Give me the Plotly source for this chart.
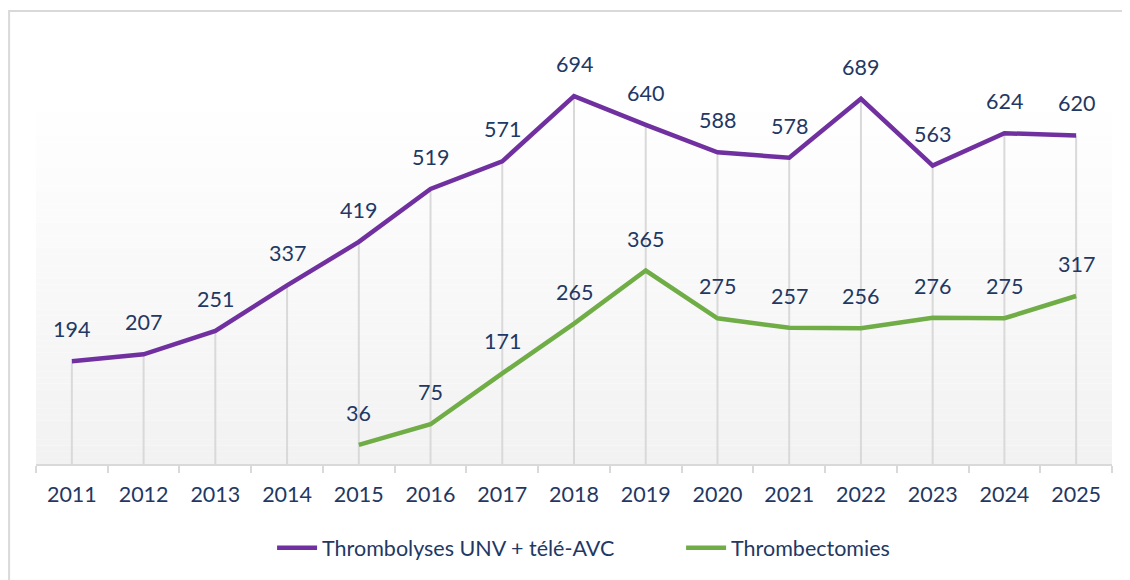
import plotly.graph_objects as go

years = ["2011","2012","2013","2014","2015","2016","2017","2018","2019","2020","2021","2022","2023","2024","2025"]
thrombolyses = [194,207,251,337,419,519,571,694,640,588,578,689,563,624,620]
thrombectomies = [None,None,None,None,36,75,171,265,365,275,257,256,276,275,317]

name_a = "Thrombolyses UNV + télé-AVC"
name_b = "Thrombectomies"

purple = "#7030a0"
green = "#70ad47"
navy = "#1f3864"
grid = "#d9d9d9"
font_family = "Lato"
fs = 21.5

fig = go.Figure()

# drop lines from purple points to axis (error bars down to 0)
fig.add_trace(go.Scatter(x=years, y=thrombolyses, mode="markers",
                         marker=dict(size=1, opacity=0),
                         error_y=dict(type="data", symmetric=False,
                                      array=[0] * len(thrombolyses),
                                      arrayminus=thrombolyses,
                                      color=grid, thickness=2, width=0),
                         showlegend=False, hoverinfo="skip"))

fig.add_trace(go.Scatter(x=years, y=thrombolyses, mode="lines", name=name_a,
                         line=dict(color=purple, width=4.5)))
fig.add_trace(go.Scatter(x=years, y=thrombectomies, mode="lines", name=name_b,
                         line=dict(color=green, width=4.5)))

annotations = []
for series in (thrombolyses, thrombectomies):
    for i, v in enumerate(series):
        if v is None:
            continue
        annotations.append(dict(x=i, y=v, text=str(v), showarrow=False, yshift=32,
                                font=dict(family=font_family, size=fs, color=navy)))

# gradient background in plot area
shapes = []
n = 60
for i in range(n):
    t = i / (n - 1)
    c = round(255 - (255 - 242) * (1 - t))
    shapes.append(dict(type="rect", xref="paper", yref="paper", x0=0, x1=1,
                       y0=i / n, y1=(i + 1) / n, fillcolor=f"rgb({c},{c},{c})",
                       line=dict(width=0), layer="below"))
# outer chart border
shapes.append(dict(type="rect", xref="paper", yref="paper", x0=-0.025, x1=1.2,
                   y0=-0.6, y1=1.221, line=dict(color=grid, width=2),
                   fillcolor="rgba(0,0,0,0)", layer="below"))

fig.update_layout(
    width=1130, height=580,
    margin=dict(l=28, r=26, t=85, b=124),
    paper_bgcolor="white", plot_bgcolor="rgba(0,0,0,0)",
    font=dict(family=font_family, size=fs, color=navy),
    showlegend=True,
    legend=dict(orientation="h", x=0.2194, xanchor="left", y=-0.226, yanchor="middle",
                font=dict(family=font_family, size=fs, color=navy), itemwidth=40,
                entrywidth=354, traceorder="normal"),
    annotations=annotations,
    shapes=shapes,
    xaxis=dict(type="category", range=[-0.5, len(years) - 0.5],
               showgrid=False, showline=True, linecolor=grid, linewidth=2,
               ticks="outside", tickson="boundaries", ticklen=7, tickcolor=grid, tickwidth=2,
               tickfont=dict(family=font_family, size=fs, color=navy), ticklabelstandoff=10,
               tickangle=0, zeroline=False, fixedrange=True),
    yaxis=dict(range=[0, 700], visible=False, showgrid=False, zeroline=False),
)

fig.write_html("out.html")
